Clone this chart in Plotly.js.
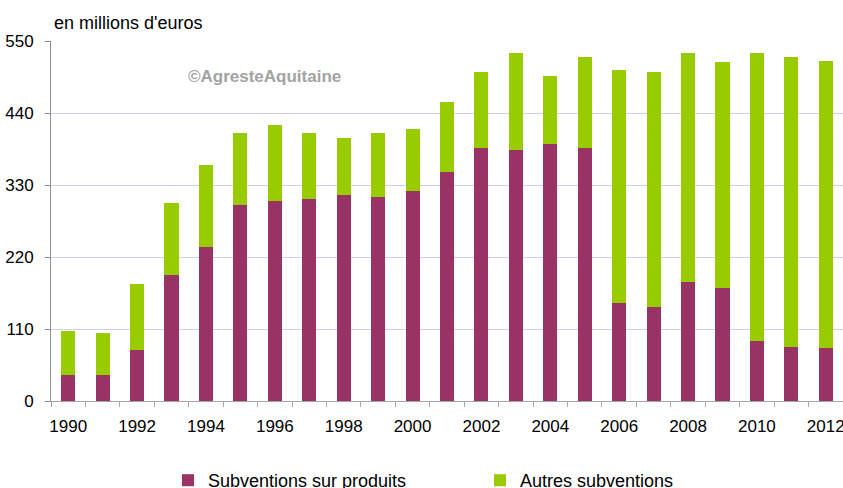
<!DOCTYPE html>
<html>
<head>
<meta charset="utf-8">
<script src="https://cdn.plot.ly/plotly-3.0.1.min.js"></script>
<style>
html,body{margin:0;padding:0;background:#fff;}
#chart{width:843px;height:488px;}
</style>
</head>
<body>
<div id="chart"></div>
<script>
var years = [1990,1991,1992,1993,1994,1995,1996,1997,1998,1999,2000,2001,2002,2003,2004,2005,2006,2007,2008,2009,2010,2011,2012];
var subventionsProduits = [39,39,78,193,236,300,305,309,315,311,321,350,387,383,392,387,150,143,182,172,92,83,81];
var autresSubventions = [68,65,100,110,124,110,116,101,87,99,94,107,116,149,104,139,356,360,350,346,439,442,439];
var xTickYears = [1990,1992,1994,1996,1998,2000,2002,2004,2006,2008,2010,2012];
var yTickValues = [0,110,220,330,440,550];
var seriesNames = ["Subventions sur produits","Autres subventions"];
var unitLabel = "en millions d'euros";
var watermark = "©AgresteAquitaine";

var FONT = "Liberation Sans, Arial, sans-serif";

var traces = [
  {type:'bar', x:years, y:subventionsProduits, name:seriesNames[0],
   marker:{color:'#993366', line:{width:0}}, hoverinfo:'x+y+name'},
  {type:'bar', x:years, y:autresSubventions, name:seriesNames[1],
   marker:{color:'#99cc00', line:{width:0}}, hoverinfo:'x+y+name'}
];

var layout = {
  width:843, height:488,
  barmode:'stack',
  bargap:0.59,
  paper_bgcolor:'#ffffff',
  plot_bgcolor:'#ffffff',
  font:{family:FONT, size:17, color:'#000000'},
  margin:{l:51, r:0, t:41, b:87, pad:0, autoexpand:false},
  title:{text:unitLabel, font:{family:FONT, size:18, color:'#000000'},
         xref:'container', yref:'container', x:54/843, xanchor:'left',
         y:1-23/488, yanchor:'middle'},
  xaxis:{
    type:'linear', range:[1989.5, 2012.5], fixedrange:true,
    tickmode:'array', tickvals:xTickYears, ticktext:xTickYears.map(String),
    ticks:'', showgrid:false, zeroline:false,
    showline:true, linecolor:'#a6a6a6', linewidth:1,
    tickfont:{family:FONT, size:17, color:'#000000'},
    ticklabelstandoff:10,
    ticklabeloverflow:'allow',
    minor:{tickmode:'linear', tick0:1989.5, dtick:1, ticks:'outside', ticklen:5, tickcolor:'#a6a6a6', tickwidth:1, showgrid:false}
  },
  yaxis:{
    range:[0,550], fixedrange:true,
    tickmode:'array', tickvals:yTickValues, ticktext:yTickValues.map(String),
    ticks:'outside', ticklen:5, tickcolor:'#8c8c8c', tickwidth:1,
    showline:true, linecolor:'#8c8c8c', linewidth:1,
    showgrid:true, gridcolor:'#cdcdf5', gridwidth:1,
    zeroline:false,
    tickfont:{family:FONT, size:17, color:'#000000'},
    ticklabelstandoff:8
  },
  showlegend:true,
  legend:{
    orientation:'h', xref:'container', yref:'container',
    x:(208-40)/843, xanchor:'left',
    y:1-462/488, yanchor:'top',
    font:{family:FONT, size:18, color:'#000000'},
    entrywidth:267, entrywidthmode:'pixels',
    bgcolor:'rgba(0,0,0,0)', borderwidth:0,
    traceorder:'normal'
  },
  annotations:[
    {text:watermark, xref:'paper', yref:'paper',
     x:(186-51)/792, xanchor:'left', y:(401-76)/360, yanchor:'middle',
     showarrow:false, font:{family:FONT, size:17, color:'#a3a3a3', weight:'bold'}}
  ]
};

Plotly.newPlot('chart', traces, layout, {displayModeBar:false, staticPlot:true});
</script>
</body>
</html>
